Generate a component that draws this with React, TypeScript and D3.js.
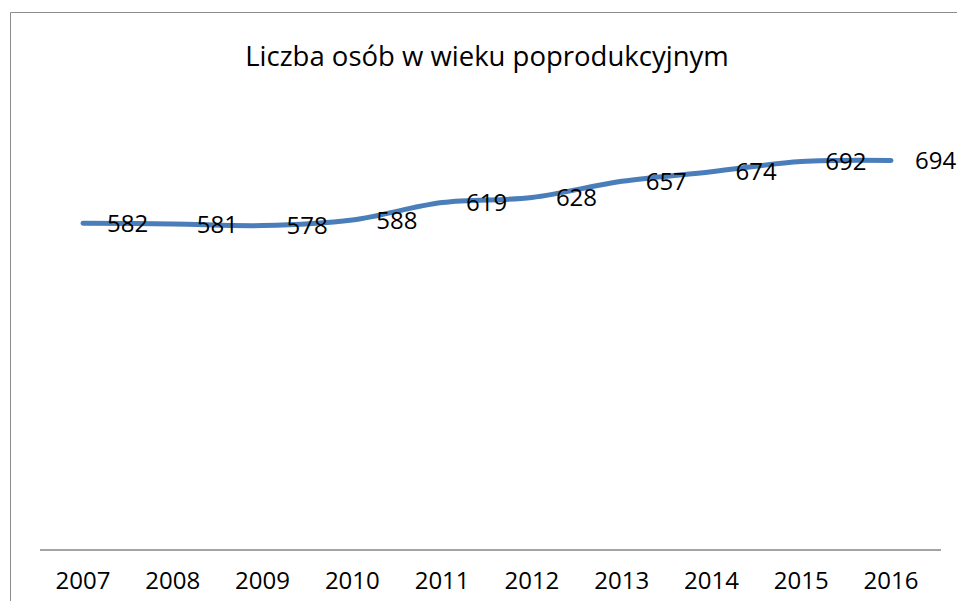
import React from 'react';
import * as d3 from 'd3';

const width = 957;
const height = 601;

const years = ['2007', '2008', '2009', '2010', '2011', '2012', '2013', '2014', '2015', '2016'];
const values = [582, 581, 578, 588, 619, 628, 657, 674, 692, 694];
const title = 'Liczba osób w wieku poprodukcyjnym';

const lineColor = '#4a7ebb';
const axisColor = '#868686';
const borderColor = '#8c8c8c';
const font = '"Open Sans", "Noto Sans", sans-serif';

// plot area: category axis along the bottom (value 0), value axis hidden
const plot = { left: 40, right: 941, top: 101, bottom: 550 };

const App = () => {
  const x = d3.scalePoint<string>().domain(years).range([83, 891]);
  const y = d3.scaleLinear().domain([0, 800]).range([plot.bottom, plot.top]);

  const line = d3
    .line<number>()
    .x((d, i) => x(years[i]) as number)
    .y((d) => y(d))
    .curve(d3.curveCatmullRom.alpha(0.5));

  return (
    <svg width={width} height={height} style={{ position: 'fixed', left: 0, top: 0 }}>
      <rect x={0} y={0} width={width} height={height} fill="#fff" />
      {/* chart frame: only the top and left edges are inside the picture */}
      <line x1={10.5} x2={width} y1={12.5} y2={12.5} stroke={borderColor} strokeWidth={1} />
      <line x1={10.5} x2={10.5} y1={12.5} y2={height} stroke={borderColor} strokeWidth={1} />

      <text x={487} y={66} textAnchor="middle" fontFamily={font} fontSize={27.5} fill="#000">
        {title}
      </text>

      <line x1={plot.left} x2={plot.right} y1={y(0)} y2={y(0)} stroke={axisColor} strokeWidth={1.5} />
      {years.map((yr) => (
        <text key={yr} x={x(yr)} y={589} textAnchor="middle" fontFamily={font} fontSize={24} fill="#000">
          {yr}
        </text>
      ))}

      <path d={line(values) ?? ''} fill="none" stroke={lineColor} strokeWidth={5} strokeLinecap="round" />

      {values.map((v, i) => (
        <text
          key={years[i]}
          x={(x(years[i]) as number) + 24}
          y={y(v)}
          dy="0.36em"
          fontFamily={font}
          fontSize={24}
          fill="#000"
        >
          {v}
        </text>
      ))}
    </svg>
  );
};

export default App;
